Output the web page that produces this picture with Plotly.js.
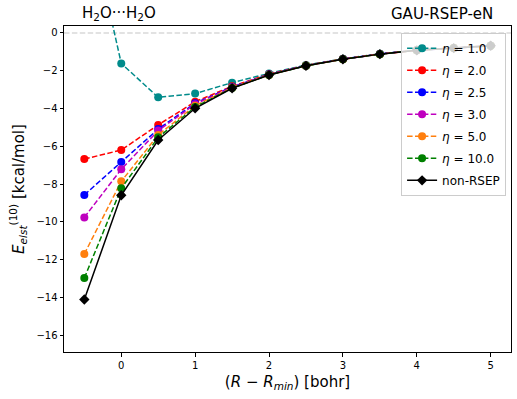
<!DOCTYPE html>
<html>
<head>
<meta charset="utf-8">
<script src="https://cdn.plot.ly/plotly-3.0.1.min.js"></script>
<style>
  html, body { margin: 0; padding: 0; background: #fff; }
  #graph { width: 517px; height: 399px; }
</style>
</head>
<body>
<div id="graph"></div>
<script>
// distance from the minimum, bohr
const xVals = [-0.5, 0, 0.5, 1, 1.5, 2, 2.5, 3, 3.5, 4, 4.5, 5];

// E_elst^(10), kcal/mol
const eta10 = [7.1, -1.61, -3.41, -3.21, -2.63, -2.14, -1.70, -1.37, -1.10, -0.91, -0.79, -0.67];
const eta20 = [-6.68, -6.20, -4.87, -3.64, -2.82, -2.18, -1.72, -1.38, -1.11, -0.91, -0.79, -0.67];
const eta25 = [-8.58, -6.83, -5.09, -3.72, -2.86, -2.20, -1.73, -1.38, -1.11, -0.92, -0.80, -0.68];
const eta30 = [-9.77, -7.22, -5.17, -3.77, -2.88, -2.21, -1.73, -1.39, -1.12, -0.92, -0.80, -0.68];
const eta50 = [-11.71, -7.86, -5.40, -3.85, -2.90, -2.22, -1.74, -1.39, -1.12, -0.92, -0.80, -0.68];
const eta100 = [-12.98, -8.23, -5.53, -3.92, -2.92, -2.22, -1.74, -1.39, -1.12, -0.92, -0.80, -0.68];
const nonRsep = [-14.12, -8.60, -5.67, -3.99, -2.93, -2.23, -1.74, -1.39, -1.12, -0.92, -0.80, -0.68];

const etaNames = ['1.0', '2.0', '2.5', '3.0', '5.0', '10.0'];
const etaSeries = [eta10, eta20, eta25, eta30, eta50, eta100];
const etaColors = ['#008b8b', '#ff0000', '#0000ff', '#bf00bf', '#ff7f0e', '#008000'];

const font = 'DejaVu Sans, sans-serif';

const traces = etaSeries.map((ys, i) => ({
	x: xVals,
	y: ys,
	mode: 'lines+markers',
	name: '<i>η</i> = ' + etaNames[i],
	legendgroup: 'g' + i,
	line: { color: etaColors[i], width: 1.5, dash: '5.5px,2.4px' },
	marker: { color: etaColors[i], size: 8, symbol: 'circle' },
	cliponaxis: true
}));

traces.push({
	x: xVals,
	y: nonRsep,
	mode: 'lines+markers',
	name: 'non-RSEP',
	legendgroup: 'g6',
	line: { color: '#000000', width: 1.5 },
	marker: { color: '#000000', size: 8, symbol: 'diamond' }
});

const layout = {
	width: 517,
	height: 399,
	margin: { l: 64, r: 6, t: 26, b: 47 },
	paper_bgcolor: '#ffffff',
	plot_bgcolor: '#ffffff',
	font: { family: font, size: 10, color: '#000' },
	showlegend: true,
	legend: {
		x: 0.989, xanchor: 'right',
		y: 0.979, yanchor: 'top',
		bgcolor: 'rgba(255,255,255,0.8)',
		bordercolor: '#cccccc',
		borderwidth: 1,
		font: { family: font, size: 12, color: '#000' },
		tracegroupgap: 3
	},
	xaxis: {
		range: [-0.775, 5.275],
		tickvals: [0, 1, 2, 3, 4, 5],
		showgrid: false,
		zeroline: false,
		showline: true,
		linecolor: '#000',
		linewidth: 1,
		mirror: true,
		ticks: 'outside',
		ticklen: 3.5,
		tickcolor: '#000',
		title: { text: '(<i>R</i> − <i>R</i><sub><i>min</i></sub>) [bohr]', font: { size: 15 }, standoff: 6 }
	},
	yaxis: {
		range: [-16.9, 0.37],
		tickvals: [0, -2, -4, -6, -8, -10, -12, -14, -16],
		showgrid: false,
		zeroline: false,
		showline: true,
		linecolor: '#000',
		linewidth: 1,
		mirror: true,
		ticks: 'outside',
		ticklen: 3.5,
		tickcolor: '#000',
		title: { text: '<i>E</i><sub><i>elst</i></sub><sup>(10)</sup> [kcal/mol]', font: { size: 15 }, standoff: 8 }
	},
	shapes: [{
		type: 'line', xref: 'paper', x0: 0, x1: 1, yref: 'y', y0: 0, y1: 0,
		line: { color: '#d9d9d9', width: 1.5, dash: '5.5px,2.4px' },
		layer: 'below'
	}],
	annotations: [
		{
			text: 'H<sub>2</sub>O···H<sub>2</sub>O',
			xref: 'paper', yref: 'paper', x: 0.036, y: 1.037,
			xanchor: 'left', yanchor: 'middle', showarrow: false,
			font: { family: font, size: 15, color: '#000' }
		},
		{
			text: 'GAU-RSEP-eN',
			xref: 'paper', yref: 'paper', x: 0.964, y: 1.037,
			xanchor: 'right', yanchor: 'middle', showarrow: false,
			font: { family: font, size: 15, color: '#000' }
		}
	]
};

Plotly.newPlot('graph', traces, layout, { displayModeBar: false, staticPlot: true });
</script>
</body>
</html>
